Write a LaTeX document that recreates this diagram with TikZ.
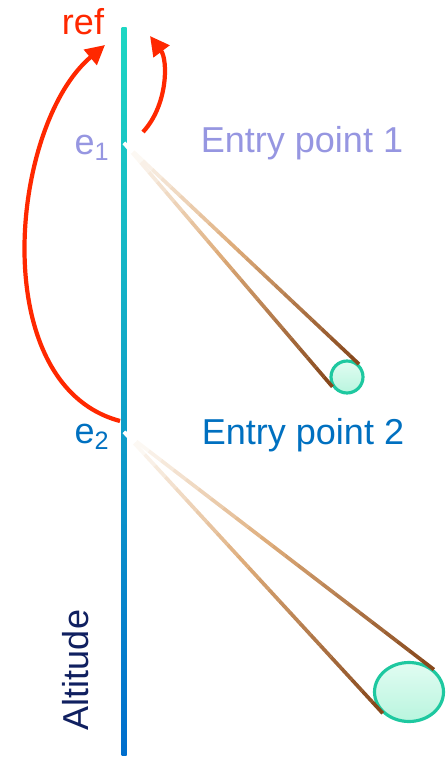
\documentclass[tikz,border=0pt]{standalone}
\usepackage{fontspec}
\setmainfont{Liberation Sans}
\usepackage{xcolor}
\usetikzlibrary{arrows.meta, calc, shapes.geometric}

\definecolor{refred}{RGB}{255,40,0}
\definecolor{entryone}{RGB}{150,150,225}
\definecolor{entrytwo}{RGB}{0,112,192}
\definecolor{altnavy}{RGB}{16,32,96}
\definecolor{axtop}{RGB}{30,215,195}
\definecolor{axmid}{RGB}{15,185,225}
\definecolor{axbot}{RGB}{0,110,205}
\definecolor{conetan}{RGB}{222,172,122}
\definecolor{conebrown}{RGB}{135,72,28}
\definecolor{blobedge}{RGB}{30,200,160}
\definecolor{blobtop}{RGB}{225,252,242}
\definecolor{blobbot}{RGB}{185,245,222}

\begin{document}
\begin{tikzpicture}[x=0.02cm, y=-0.02cm,
    lbl/.style={font=\fontsize{20.5}{24}\selectfont, inner sep=0pt},
    refarrow/.style={draw=refred, line width=2.4pt, -{Triangle[length=11pt, width=11pt]}},
    blob/.style={ellipse, draw=blobedge, line width=1.8pt, top color=blobtop,
        bottom color=blobbot, inner sep=0pt},
    cone/.style={line width=2.1pt}
]
    \useasboundingbox (0,0) rectangle (448,759);

    % altitude axis
    \shade[top color=axtop, middle color=axmid, bottom color=axbot] (121.5,28) rectangle (126.5,755);
    \coordinate (e1) at (124,143);
    \coordinate (e2) at (124,432);

    % labels
    \node[lbl, text=refred] (ref) at (83,22) {ref};
    \node[lbl, text=entryone] (l1) at (92,148) {e\textsubscript{1}};
    \node[lbl, text=entryone] (p1) at (302,143) {Entry point 1};
    \node[lbl, text=entrytwo] (l2) at (92,437) {e\textsubscript{2}};
    \node[lbl, text=entrytwo] (p2) at (303,435) {Entry point 2};
    \node[lbl, text=altnavy, rotate=90] (alt) at (76,670) {Altitude};

    % blobs
    \node[blob, minimum width=0.64cm, minimum height=0.64cm] (b1) at (347,377) {};
    \node[blob, minimum width=1.38cm, minimum height=1.18cm] (b2) at (409,692) {};

    % cones: white -> tan -> brown
    \foreach \e/\b/\u/\l in {e1/b1/47/214, e2/b2/42/219} {
        \foreach \k [evaluate=\k as \wa using {int(min(100,\k*100/11))},
                     evaluate=\k as \wb using {int(max(0,(\k-11)*100/13))},
                     evaluate=\k as \sa using \k/25,
                     evaluate=\k as \sb using (\k+1)/25] in {0,...,24} {
            \colorlet{segcol}{conebrown!\wb!conetan}
            \draw[cone, draw=segcol!\wa!white] ($(\e)!\sa!(\b.\u)$) -- ($(\e)!\sb!(\b.\u)$);
            \draw[cone, draw=segcol!\wa!white] ($(\e)!\sa!(\b.\l)$) -- ($(\e)!\sb!(\b.\l)$);
        }
    }

    % reference arrows
    \coordinate (t1) at (143,132);
    \coordinate (h1) at (150,36);
    \coordinate (t2) at (120,421);
    \coordinate (h2) at (105,45);
    \draw[refarrow] (t1) .. controls (168,105) and (168,60) .. (h1);
    \draw[refarrow] (t2) .. controls (-15,385) and (10,125) .. (h2);
\end{tikzpicture}
\end{document}
